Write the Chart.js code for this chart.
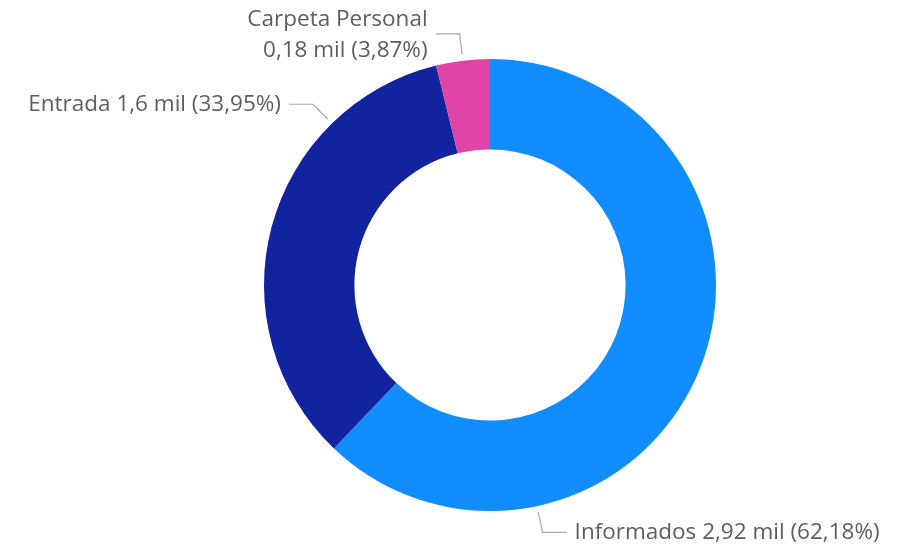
<!DOCTYPE html>
<html lang="es">
<head>
    <meta charset="UTF-8">
    <title>Donut</title>
    <script src="https://cdn.jsdelivr.net/npm/chart.js"></script>
    <style>
        html, body { margin: 0; padding: 0; background: #fff; }
        #wrap { width: 905px; height: 548px; }
    </style>
</head>
<body>
    <div id="wrap"><canvas id="myChart" width="905" height="548"></canvas></div>

    <script>
        // datos
        const categories = ['Informados', 'Entrada', 'Carpeta Personal'];
        const values = [2.92, 1.6, 0.18];
        const valueLabels = ['2,92 mil', '1,6 mil', '0,18 mil'];
        const percentLabels = ['62,18%', '33,95%', '3,87%'];
        const colors = ['#118DFF', '#12239E', '#E044A7'];

        // posición de cada etiqueta: ángulo de la guía (grados, canvas) y lado del texto
        const labelLayout = [
            { angle: 78, side: 'right', lines: 1 },
            { angle: 225.6, side: 'left', lines: 1 },
            { angle: 263.1, side: 'left', lines: 2 }
        ];

        const leaderLabels = {
            id: 'leaderLabels',
            afterDatasetsDraw(chart) {
                const { ctx } = chart;
                const meta = chart.getDatasetMeta(0);
                const arc = meta.data[0];
                const cx = arc.x, cy = arc.y, R = arc.outerRadius;

                meta.data.forEach((el, i) => {
                    const lay = labelLayout[i];
                    const a = lay.angle * Math.PI / 180;
                    const x1 = cx + (R + 6) * Math.cos(a);
                    const y1 = cy + (R + 6) * Math.sin(a);
                    const x2 = cx + (R + 27) * Math.cos(a);
                    const y2 = cy + (R + 27) * Math.sin(a);
                    const dir = lay.side === 'right' ? 1 : -1;
                    const x3 = x2 + dir * 24;

                    ctx.save();
                    ctx.strokeStyle = '#ABABAB';
                    ctx.lineWidth = 1.2;
                    ctx.beginPath();
                    ctx.moveTo(x1, y1);
                    ctx.lineTo(x2, y2);
                    ctx.lineTo(x3, y2);
                    ctx.stroke();

                    ctx.fillStyle = '#605E5C';
                    ctx.font = '22.5px "Open Sans", "Noto Sans", sans-serif';
                    ctx.textBaseline = 'middle';
                    ctx.textAlign = lay.side === 'right' ? 'left' : 'right';
                    const tx = x3 + dir * 8;
                    const v = valueLabels[i] + ' (' + percentLabels[i] + ')';
                    if (lay.lines === 2) {
                        ctx.fillText(categories[i], tx, y2 - 14);
                        ctx.fillText(v, tx, y2 + 17);
                    } else {
                        ctx.fillText(categories[i] + ' ' + v, tx, y2);
                    }
                    ctx.restore();
                });
            }
        };

        const config = {
            type: 'doughnut',
            data: {
                labels: categories,
                datasets: [{
                    data: values,
                    backgroundColor: colors,
                    borderWidth: 0
                }]
            },
            options: {
                responsive: false,
                animation: false,
                cutout: '60%',
                layout: {
                    padding: { top: 59, bottom: 37, left: 264, right: 189 }
                },
                plugins: {
                    legend: { display: false },
                    tooltip: { enabled: false }
                }
            },
            plugins: [leaderLabels]
        };

        new Chart(document.getElementById('myChart').getContext('2d'), config);
    </script>
</body>
</html>
